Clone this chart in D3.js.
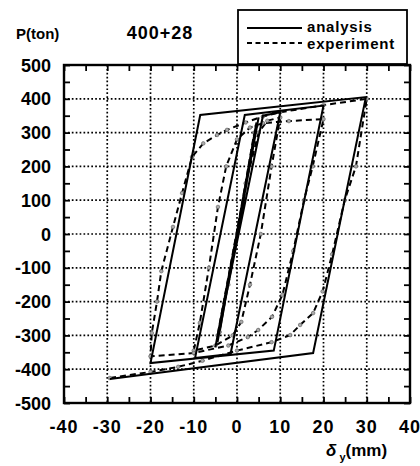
<!DOCTYPE html>
<html>
<head>
	<title>400+28 hysteresis</title>
	<meta charset="utf-8">
	<script src="https://cdn.jsdelivr.net/npm/d3@7/dist/d3.min.js" charset="utf-8"></script>
	<style>
		body { margin: 0; background: #fff; }
		text { font-family: "Liberation Sans", Arial, sans-serif; fill: #000; font-weight: bold; }
	</style>
</head>
<body>
<div id="chart"></div>
<script>

// tick values
var xTicks = [-40, -30, -20, -10, 0, 10, 20, 30, 40];
var yTicks = [-500, -400, -300, -200, -100, 0, 100, 200, 300, 400, 500];

// analysis (solid) - displacement mm / load ton
var analysisX = [0, 4.5, -4.5, 5, -5, 6, 10, -1.5, -9.7, 1.8, 20, 8.5, -20, -8.5, 29.8, 17.6, -29.4];
var analysisY = [0, 330, -320, 345, -335, 350, 360, -355, -367, 352, 380, -345, -382, 352, 405, -352, -429];

// experiment (dashed)
var experimentX = [0, 4, -4, 4.5, -4.5, -2, 2, 5, 7, 10,
	8, 5.5, 3, 1, -1, -5, -10,
	-8.6, -6.5, -4.4, -2.5, 0, 3, 6, 12, 20,
	17.5, 15.5, 13, 10.5, 8.1, 4.9, 2.5, -2, -10, -20,
	-19.7, -18.5, -17.5, -14.8, -12.7, -10.4, -7.8, -4.6, -2.3, 2, 6, 10, 20, 30,
	27.5, 24.9, 22, 19.8, 17.6, 14.6, 12.3, 8, 0, -8, -13.6, -20, -29.4];
var experimentY = [0, 300, -290, 320, -300, -150, 150, 300, 335, 345,
	200, 0, -150, -260, -300, -330, -345,
	-263, -100, 80, 200, 280, 315, 328, 334, 340,
	200, 100, -50, -180, -245, -284, -305, -330, -352, -362,
	-293, -200, -110, 21, 121, 228, 268, 293, 308, 330, 348, 360, 381, 400,
	200, 100, -60, -170, -234, -269, -299, -320, -345, -375, -393, -408, -426];

var width = 420, height = 466;

var svg = d3.select("#chart").append("svg")
	.attr("width", width)
	.attr("height", height);

var x = d3.scaleLinear().domain([-40, 40]).range([64, 410]);
var y = d3.scaleLinear().domain([-500, 500]).range([403, 65]);

// dotted grid
var grid = svg.append("g");
grid.selectAll(".gx").data(xTicks.slice(1, -1)).enter().append("line")
	.attr("x1", function(d) { return x(d); }).attr("x2", function(d) { return x(d); })
	.attr("y1", y(500)).attr("y2", y(-500))
	.attr("stroke", "#000").attr("stroke-width", 1.7).attr("stroke-dasharray", "1.7,2.2");
grid.selectAll(".gy").data(yTicks.slice(1, -1)).enter().append("line")
	.attr("y1", function(d) { return y(d); }).attr("y2", function(d) { return y(d); })
	.attr("x1", x(-40)).attr("x2", x(40))
	.attr("stroke", "#000").attr("stroke-width", 1.7).attr("stroke-dasharray", "1.7,2.2");

// axes with inward ticks
svg.append("g").attr("transform", "translate(0," + y(-500) + ")")
	.call(d3.axisTop(x).tickValues(d3.range(-40, 41, 5)).tickSize(6).tickFormat(""));
svg.append("g").attr("transform", "translate(0," + y(500) + ")")
	.call(d3.axisBottom(x).tickValues(d3.range(-40, 41, 5)).tickSize(6).tickFormat(""));
svg.append("g").attr("transform", "translate(" + x(-40) + ",0)")
	.call(d3.axisRight(y).tickValues(d3.range(-500, 501, 50)).tickSize(6).tickFormat(""));
svg.append("g").attr("transform", "translate(" + x(40) + ",0)")
	.call(d3.axisLeft(y).tickValues(d3.range(-500, 501, 50)).tickSize(6).tickFormat(""));
svg.selectAll(".domain").remove();
svg.selectAll(".tick line").attr("stroke", "#000").attr("stroke-width", 1.8);

// frame
svg.append("rect")
	.attr("x", x(-40)).attr("y", y(500))
	.attr("width", x(40) - x(-40)).attr("height", y(-500) - y(500))
	.attr("fill", "none").attr("stroke", "#000").attr("stroke-width", 2.4);

// tick labels
svg.selectAll(".xl").data(xTicks).enter().append("text")
	.attr("x", function(d) { return x(d); }).attr("y", 433)
	.attr("text-anchor", "middle")
	.style("font-size", "18px").style("letter-spacing", "1px")
	.text(function(d) { return d; });
svg.selectAll(".yl").data(yTicks).enter().append("text")
	.attr("x", 51).attr("y", function(d) { return y(d) + 6.5; })
	.attr("text-anchor", "end")
	.style("font-size", "18px")
	.text(function(d) { return d; });

// curves
var line = d3.line().x(function(d) { return x(d[0]); }).y(function(d) { return y(d[1]); });
var analysis = d3.zip(analysisX, analysisY);
var experiment = d3.zip(experimentX, experimentY);

svg.append("path").datum(experiment)
	.attr("d", line).attr("fill", "none")
	.attr("stroke", "#000").attr("stroke-width", 2).attr("stroke-dasharray", "6,4");
svg.selectAll(".pt").data(experiment).enter().append("circle")
	.attr("cx", function(d) { return x(d[0]); })
	.attr("cy", function(d) { return y(d[1]); })
	.attr("r", 1.8).attr("fill", "#aaa").attr("stroke", "#666").attr("stroke-width", 0.7);
svg.append("path").datum(analysis)
	.attr("d", line).attr("fill", "none")
	.attr("stroke", "#000").attr("stroke-width", 2);

// titles
svg.append("text").attr("x", 16).attr("y", 39)
	.style("font-size", "15px").text("P(ton)");
svg.append("text").attr("x", 160).attr("y", 39).attr("text-anchor", "middle")
	.style("font-size", "18px").style("letter-spacing", "1px").text("400+28");

var xlab = svg.append("text").attr("x", 326).attr("y", 456)
	.style("font-size", "17px");
xlab.append("tspan").style("font-style", "italic").text("δ");
xlab.append("tspan").attr("dy", 5).style("font-size", "11px").text(" y");
xlab.append("tspan").attr("dy", -5).text("(mm)");

// legend
var leg = svg.append("g");
leg.append("rect").attr("x", 238).attr("y", 10).attr("width", 169).attr("height", 54)
	.attr("fill", "#fff").attr("stroke", "#000").attr("stroke-width", 1.8);
leg.append("line").attr("x1", 247).attr("x2", 302).attr("y1", 28).attr("y2", 28)
	.attr("stroke", "#000").attr("stroke-width", 2);
leg.append("line").attr("x1", 247).attr("x2", 302).attr("y1", 43).attr("y2", 43)
	.attr("stroke", "#000").attr("stroke-width", 2).attr("stroke-dasharray", "5,3.5");
leg.append("text").attr("x", 307).attr("y", 32)
	.style("font-size", "15px").style("letter-spacing", "0.8px").text("analysis");
leg.append("text").attr("x", 307).attr("y", 49)
	.style("font-size", "15px").style("letter-spacing", "0.8px").text("experiment");

</script>
</body>
</html>
